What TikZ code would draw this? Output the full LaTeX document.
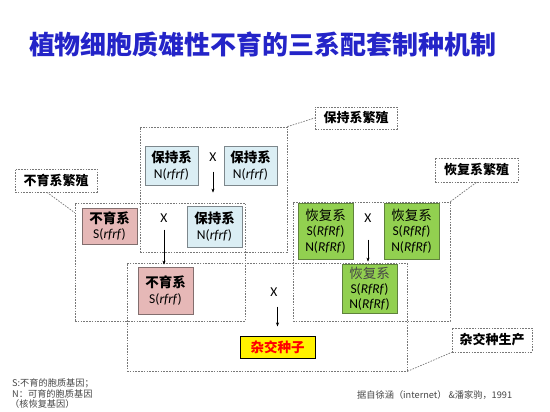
\documentclass[tikz,border=0pt]{standalone}
\usepackage{fontspec}
\setmainfont{Carlito}
\newfontfamily\cjk{Noto Sans CJK SC}
\usetikzlibrary{arrows.meta}
\definecolor{titleblue}{RGB}{36,36,200}
\definecolor{keepfill}{RGB}{219,238,244}
\definecolor{keepdraw}{RGB}{125,135,140}
\definecolor{sterfill}{RGB}{230,184,183}
\definecolor{sterdraw}{RGB}{130,110,110}
\definecolor{restfill}{RGB}{146,208,80}
\definecolor{restdraw}{RGB}{95,130,60}
\definecolor{regiongray}{RGB}{120,120,120}
\definecolor{notegray}{RGB}{70,70,70}
\begin{document}
\begin{tikzpicture}[x=1pt,y=-1pt,
  linebox/.style={line width=0.8pt, inner sep=0pt, align=center,
    font=\fontsize{13.5}{15.5}\selectfont},
  keepbox/.style={linebox, draw=keepdraw, fill=keepfill, minimum width=53pt, minimum height=39pt},
  sterbox/.style={linebox, draw=sterdraw, fill=sterfill, minimum width=55pt},
  restbox/.style={linebox, draw=restdraw, fill=restfill, minimum width=55pt},
  region/.style={draw=regiongray, dash pattern=on 1.6pt off 1.2pt, line width=0.7pt, inner sep=0pt},
  lead/.style={draw=regiongray, dash pattern=on 1.6pt off 1.2pt, line width=0.7pt},
  tag/.style={region, fill=white, font=\cjk\bfseries\fontsize{13}{13}\selectfont},
  cross/.style={inner sep=0pt, font=\fontsize{13.5}{13.5}\selectfont},
  arr/.style={-{Stealth[length=4pt,width=3pt]}, line width=0.5pt},
  note/.style={inner sep=0pt, anchor=west, text=notegray, font=\cjk\fontsize{9.2}{9.5}\selectfont}
]
\useasboundingbox (0,0) rectangle (550,412);

% title
\node[font=\cjk\bfseries\fontsize{26}{26}\selectfont, text=titleblue, inner sep=0pt] (title) at (263,44) {植物细胞质雄性不育的三系配套制种机制};

% dashed regions
\node[region, minimum width=147pt, minimum height=125pt] (kreg) at (213.5,189.5) {};
\node[region, minimum width=170pt, minimum height=118pt] (sreg) at (160,262) {};
\node[region, minimum width=157pt, minimum height=119pt] (rreg) at (371.5,261.5) {};
\node[region, minimum width=280pt, minimum height=108pt] (hreg) at (267,317) {};

% region labels
\node[tag, minimum width=82pt, minimum height=22pt] (ktag) at (356,118) {保持系繁殖};
\node[tag, minimum width=82pt, minimum height=23pt] (stag) at (56,180.5) {不育系繁殖};
\node[tag, minimum width=83pt, minimum height=24pt] (rtag) at (476.5,170) {恢复系繁殖};
\node[tag, minimum width=80pt, minimum height=24pt] (htag) at (492,340) {杂交种生产};

\draw[lead] (kreg.north east) -- (ktag.west);
\draw[lead] ([xshift=-9pt]stag.south) -- ([yshift=-10pt]sreg.north west);
\draw[lead] (rreg.north east) -- (rtag.south);
\draw[lead] (hreg.south east) -- (htag.south west);

% maintainer line
\node[keepbox] (m1) at (171.5,165.5) {{\cjk\bfseries 保持系}\\N(\textit{rfrf})};
\node[keepbox] (m2) at (250.5,165.5) {{\cjk\bfseries 保持系}\\N(\textit{rfrf})};
\node[keepbox, minimum width=55pt, minimum height=41pt] (m3) at (214.5,226.5) {{\cjk\bfseries 保持系}\\N(\textit{rfrf})};
\node[cross] (x1) at (213,157) {X};
\draw[arr, shorten <=10pt, shorten >=13pt] (x1.south) -- (x1.south |- m3.north);

% sterile line
\node[sterbox, minimum height=36pt] (a1) at (109.5,226) {{\cjk\bfseries 不育系}\\S(\textit{rfrf})};
\node[sterbox, minimum height=47pt] (a2) at (165.5,290.5) {{\cjk\bfseries 不育系}\\S(\textit{rfrf})};
\node[cross] (x2) at (164,218) {X};
\draw[arr, shorten <=7pt, shorten >=2pt] (x2.south) -- (x2.south |- a2.north);

% restorer line
\node[restbox, minimum height=56pt] (r1) at (325.5,231) {{\cjk 恢复系}\\S(\textit{RfRf})\\N(\textit{RfRf})};
\node[restbox, minimum height=56pt] (r2) at (411.5,231) {{\cjk 恢复系}\\S(\textit{RfRf})\\N(\textit{RfRf})};
\node[restbox, minimum height=49pt, font=\fontsize{13.5}{15}\selectfont] (r3) at (369.5,288.5) {{\cjk\color{notegray} 恢复系}\\S(\textit{RfRf})\\N(\textit{RfRf})};
\node[cross] (x3) at (368,218) {X};
\draw[arr, shorten <=17pt, shorten >=2pt] (x3.south) -- (x3.south |- r3.north);

% hybrid seed
\node[linebox, draw=black, line width=1pt, fill=yellow, minimum width=75pt, minimum height=22pt,
  font=\cjk\bfseries\fontsize{13.5}{13.5}\selectfont, text=red] (seed) at (277.5,347) {杂交种子};
\node[cross] (x4) at (274,292) {X};
\draw[arr, shorten <=10pt, shorten >=9pt] (x4.south -| seed.north) -- (seed.north);

% notes
\node[note] (n1) at (12,383) {S:不育的胞质基因；};
\node[note] (n2) at (12,394) {N：可育的胞质基因};
\node[note] (n3) at (10,404.5) {（核恢复基因）};
\node[note] (cite) at (357,395) {据自徐涵（internet） \&潘家驹，1991};
\end{tikzpicture}
\end{document}
